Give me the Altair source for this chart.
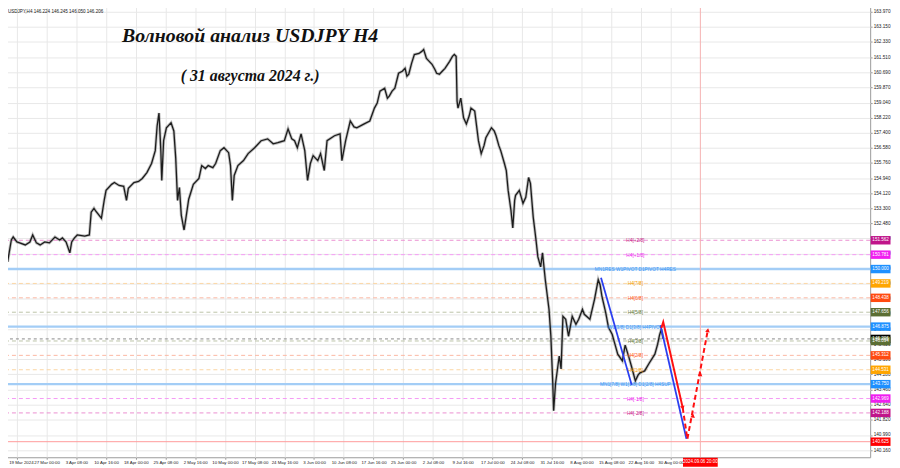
import json
import altair as alt
import pandas as pd

# ---------------- data ----------------
# (H4 bar index, price) along the USDJPY price path
price_path = [
    (0, 151.04), (3, 151.69), (6, 150.39), (10, 151.58), (12, 151.74), (16, 151.47), (19, 151.42),
    (25, 151.31), (30, 151.47), (33, 151.85), (37, 151.42), (41, 151.31), (46, 151.47), (51, 151.42),
    (57, 151.74), (62, 151.58), (65, 151.69), (69, 151.47), (73, 150.88), (75, 151.47), (78, 151.69),
    (81, 151.85), (89, 151.79), (94, 151.85), (96, 153.09), (99, 153.30), (101, 153.14), (107, 152.76),
    (110, 153.73), (112, 154.27), (118, 154.60), (121, 154.70), (126, 154.54), (131, 154.49),
    (134, 153.73), (136, 154.38), (142, 154.70), (147, 154.76), (151, 154.92), (156, 155.24),
    (161, 155.73), (165, 156.43), (167, 157.77), (169, 158.47), (171, 156.43), (172, 154.81),
    (174, 156.97), (177, 157.67), (182, 157.94), (185, 157.50), (187, 156.05), (189, 153.73),
    (191, 154.43), (193, 152.93), (196, 152.12), (198, 152.76), (201, 153.79), (206, 154.60),
    (212, 154.92), (215, 155.62), (219, 155.46), (222, 155.62), (227, 155.51), (230, 155.73),
    (235, 156.43), (239, 156.59), (244, 156.32), (246, 155.62), (248, 153.73), (250, 155.08),
    (254, 155.62), (260, 155.89), (265, 156.27), (272, 156.59), (279, 156.97), (286, 157.07),
    (292, 156.80), (297, 156.86), (304, 156.97), (308, 157.61), (312, 157.07), (315, 156.97),
    (318, 156.59), (322, 157.34), (326, 156.43), (329, 154.81), (332, 155.73), (335, 156.16),
    (340, 155.89), (343, 156.27), (347, 155.35), (350, 156.97), (358, 157.24), (364, 157.34),
    (366, 155.89), (370, 156.97), (375, 158.04), (379, 157.72), (382, 157.67), (390, 157.88),
    (396, 158.04), (401, 158.74), (404, 159.01), (407, 159.66), (412, 159.82), (415, 159.28),
    (417, 159.39), (420, 159.66), (423, 159.82), (427, 160.63), (431, 160.74), (434, 160.90),
    (436, 160.47), (438, 160.58), (441, 161.17), (444, 161.65), (449, 161.71), (452, 161.82),
    (454, 161.92), (457, 161.44), (460, 161.28), (463, 161.12), (466, 160.85), (468, 160.63),
    (471, 160.58), (474, 160.74), (477, 160.90), (482, 161.28), (485, 161.55), (487, 161.65),
    (489, 161.55), (490, 159.12), (491, 158.74), (494, 159.28), (497, 158.21), (500, 157.88),
    (503, 158.31), (505, 158.74), (509, 158.58), (513, 156.97), (516, 156.27), (519, 156.70),
    (521, 157.13), (527, 157.67), (530, 157.50), (532, 157.24), (535, 156.70), (537, 156.43),
    (541, 155.73), (543, 155.35), (545, 154.27), (548, 153.20), (550, 152.23), (552, 153.73),
    (553, 154.00), (557, 154.27), (561, 153.57), (564, 153.90), (567, 154.97), (569, 154.65),
    (572, 152.82), (575, 151.58), (577, 150.66), (580, 150.12), (582, 150.88), (585, 149.42),
    (589, 147.81), (591, 146.35), (593, 143.87), (594, 142.31), (596, 143.77), (600, 145.28),
    (602, 144.58), (604, 147.43), (607, 147.27), (610, 146.35), (614, 147.43), (618, 147.00),
    (621, 147.27), (625, 147.81), (627, 147.54), (633, 147.27), (638, 148.35), (642, 149.42),
    (644, 149.15), (646, 148.51), (650, 147.65), (653, 146.84), (657, 146.46), (660, 145.92),
    (663, 145.38), (668, 145.01), (671, 145.87), (675, 145.22), (678, 144.68), (682, 143.93),
    (685, 144.25), (687, 144.36), (692, 144.47), (697, 144.90), (703, 145.38), (706, 145.92),
    (708, 146.41), (710, 146.73), (712, 146.21),
]

date_labels = ["19 Mar 2024", "27 Mar 00:00", "3 Apr 08:00", "10 Apr 16:00", "18 Apr 00:00",
               "25 Apr 08:00", "2 May 16:00", "10 May 00:00", "17 May 08:00", "24 May 16:00",
               "3 Jun 00:00", "10 Jun 08:00", "17 Jun 16:00", "25 Jun 00:00", "2 Jul 08:00",
               "9 Jul 16:00", "17 Jul 00:00", "24 Jul 08:00", "31 Jul 16:00", "8 Aug 00:00",
               "15 Aug 08:00", "22 Aug 16:00", "30 Aug 00:00"]
date_ticks = [16 + 32 * i for i in range(len(date_labels))]

price_ticks = [163.970, 163.150, 162.330, 161.510, 160.690, 159.870, 159.040, 158.220, 157.400,
               156.580, 155.760, 154.940, 154.120, 153.300, 152.480, 151.660, 150.840, 150.020,
               149.200, 148.380, 147.560, 146.740, 145.920, 145.100, 144.280, 143.460, 142.640,
               141.820, 140.990, 140.160]

level_prices = [151.5625, 150.78125, 150.0, 149.21875, 148.4375, 147.65625, 146.875,
                146.09375, 145.3125, 144.53125, 143.75, 142.96875, 142.1875]
level_names = ["H4[+2/8]", "H4[+1/8]", "MN1RES W1PIVOT D1PIVOT H4RES", "H4[7/8]", "H4[6/8]",
               "H4[5/8]", "W1[3/8] D1[3/8] H4PIVOT", "H4[3/8]", "H4[2/8]", "H4[1/8]",
               "MN1[7/8] W1[1/8] D1[2/8] H4SUP", "H4[-1/8]", "H4[-2/8]"]
level_kind = ["dm", "m", "b", "o", "r", "g", "b", "g", "r", "o", "b", "m", "dm"]

bid_price = 146.206
low_target = 140.625
cursor_bar = 752
cursor_label = "2024.09.06 20:00"
label_bar = 682

blue_wave = [(645, 149.53, "a"), (678, 143.71, "a"), (709, 146.95, "b"), (737, 140.78, "b")]
red_solid = [(710, 146.80), (712, 147.12), (733, 142.46)]
red_dashed = [(733, 142.46), (738, 140.77), (760, 146.68)]
red_arrows = [(733, 142.46, "triangle-down", 346), (744, 142.04, "triangle-up", 10),
              (752, 144.30, "triangle-up", 10), (760, 146.68, "triangle-up", 10)]

# ---------------- styling ----------------
line_col = {"dm": "#eb8fd0", "m": "#f59af5", "b": "#a3cdf6", "o": "#fbd6a3", "r": "#fbb7a3", "g": "#bcc3a8"}
text_col = {"dm": "#c71585", "m": "#ee1aee", "b": "#3b95f5", "o": "#f5a000", "r": "#ff5a20", "g": "#667a3a"}
box_col = {"dm": "#c0158a", "m": "#f01ef0", "b": "#1e90ff", "o": "#ffa500", "r": "#ff4a10", "g": "#5b6e33"}

FONT = "Liberation Sans"
X_MAX = 875 * 1.0684
Y_MIN, Y_MAX = 139.779, 164.401

xscale = alt.Scale(domain=[0, X_MAX], nice=False, zero=False)
yscale = alt.Scale(domain=[Y_MIN, Y_MAX], nice=False, zero=False)
label_expr = json.dumps(date_labels) + "[round((datum.value - 16) / 32)]"
xaxis = alt.Axis(values=date_ticks, labelExpr=label_expr, grid=True, gridColor="#e8e8e8",
                 domain=False, ticks=True, tickSize=2, tickColor="#999", labelFont=FONT,
                 labelFontSize=4.4, labelColor="#222", labelPadding=1.5, labelOverlap=False,
                 labelFlush=False, title=None,
                 labelOffset=alt.condition("datum.value == 16", alt.value(4), alt.value(0)))
yaxis = alt.Axis(orient="right", values=price_ticks, format=".3f", grid=True, gridColor="#e8e8e8",
                 domain=False, ticks=True, tickSize=2, tickColor="#999", labelFont=FONT,
                 labelFontSize=4.7, labelColor="#222", labelPadding=1, labelOverlap=False,
                 labelFlush=False, title=None)

X = alt.X("bar:Q", scale=xscale, axis=xaxis)
Y = alt.Y("price:Q", scale=yscale, axis=yaxis)

path_df = pd.DataFrame(price_path, columns=["bar", "price"])
lv = pd.DataFrame({"price": level_prices, "name": level_names, "kind": level_kind})
lv["lc"] = lv["kind"].map(line_col)
lv["tc"] = lv["kind"].map(text_col)
lv["bc"] = lv["kind"].map(box_col)
lv["box"] = [f"{p:.3f}" for p in level_prices]
lv["bar"] = label_bar
lv["solid"] = lv["kind"] == "b"

base_lv = alt.Chart(lv)
dashed_lines = base_lv.transform_filter("!datum.solid").mark_rule(strokeWidth=1, strokeDash=[4, 3]).encode(
    y=Y, color=alt.Color("lc:N", scale=None))
solid_lines = base_lv.transform_filter("datum.solid").mark_rule(strokeWidth=2.4).encode(
    y=Y, color=alt.Color("lc:N", scale=None))
level_text = base_lv.mark_text(font=FONT, fontSize=4.8, baseline="middle", dy=1).encode(
    x=X, y=Y, text="name:N", color=alt.Color("tc:N", scale=None))

extra = pd.DataFrame({"price": [bid_price, low_target], "bar": [cursor_bar, cursor_bar],
                      "box": [f"{bid_price:.3f}", f"{low_target:.3f}"],
                      "bc": ["#000000", "#ff0000"], "lc": ["#9a9a9a", "#ff9a9a"]})
bid_line = alt.Chart(extra.iloc[[0]]).mark_rule(strokeWidth=1, strokeDash=[3, 3], color="#8a8a8a").encode(y=Y)
low_line = alt.Chart(extra.iloc[[1]]).mark_rule(strokeWidth=1, color="#ff9a9a").encode(y=Y)
cursor_line = alt.Chart(extra.iloc[[0]]).mark_rule(strokeWidth=1, color="#f5b0b0").encode(x=X)

halo = alt.Chart(path_df).mark_line(color="#666666", strokeWidth=3, opacity=0.4).encode(x=X, y=Y)
price_line = alt.Chart(path_df).mark_line(color="#1c1c1c", strokeWidth=1.3).encode(x=X, y=Y)

blue_df = pd.DataFrame(blue_wave, columns=["bar", "price", "seg"])
blue = alt.Chart(blue_df).mark_line(color="#2b3ff0", strokeWidth=1.8).encode(x=X, y=Y, detail="seg:N")
red1 = alt.Chart(pd.DataFrame(red_solid, columns=["bar", "price"])).mark_line(
    color="#ff1010", strokeWidth=2).encode(x=X, y=Y)
red2 = alt.Chart(pd.DataFrame(red_dashed, columns=["bar", "price"])).mark_line(
    color="#ff1010", strokeWidth=2, strokeDash=[5, 3]).encode(x=X, y=Y)
arr_df = pd.DataFrame(red_arrows, columns=["bar", "price", "shape", "angle"])
arrows = alt.Chart(arr_df).mark_point(filled=True, size=22, color="#ff1010", opacity=1).encode(
    x=X, y=Y, shape=alt.Shape("shape:N", scale=None), angle=alt.Angle("angle:Q", scale=None))

# axis-side value boxes
boxes_df = pd.concat([extra.iloc[[0]][["price", "box", "bc"]], lv[["price", "box", "bc"]],
                      extra.iloc[[1]][["price", "box", "bc"]]], ignore_index=True)
box_rect = alt.Chart(boxes_df).mark_rect(width=20, height=8.5).encode(
    x=alt.value(885.5), y=Y, color=alt.Color("bc:N", scale=None))
box_text = alt.Chart(boxes_df).mark_text(font=FONT, fontSize=4.6, color="white", baseline="middle").encode(
    x=alt.value(885.5), y=Y, text="box:N")

date_box_df = pd.DataFrame({"bar": [cursor_bar], "t": [cursor_label]})
date_rect = alt.Chart(date_box_df).mark_rect(width=35, height=9, color="#ff0000").encode(x=X, y=alt.value(462))
date_text = alt.Chart(date_box_df).mark_text(font=FONT, fontSize=4.5, color="white", baseline="middle").encode(
    x=X, y=alt.value(462), text="t:N")

titles = pd.DataFrame({"t": ["Волновой анализ USDJPY H4", "( 31 августа 2024 г.)"]})
title1 = alt.Chart(titles.iloc[[0]]).mark_text(font="Liberation Serif", fontStyle="italic", fontWeight="bold",
                                               fontSize=20, color="#111").encode(
    x=alt.value(250), y=alt.value(32), text="t:N")
title2 = alt.Chart(titles.iloc[[1]]).mark_text(font="Liberation Serif", fontStyle="italic", fontWeight="bold",
                                               fontSize=16, color="#111").encode(
    x=alt.value(250), y=alt.value(73), text="t:N")
hdr = alt.Chart(pd.DataFrame({"t": ["USDJPY,H4  146.224 146.245 146.050 146.206"]})).mark_text(
    font=FONT, fontSize=4.6, color="#222", align="left", baseline="middle").encode(
    x=alt.value(6), y=alt.value(8.5), text="t:N")

chart = alt.layer(
    dashed_lines, solid_lines, bid_line, low_line, cursor_line,
    halo, price_line, level_text, blue, red1, red2, arrows,
    title1, title2, hdr, box_rect, box_text, date_rect, date_text,
).properties(
    width=875, height=457, autosize="none",
    padding={"left": -6, "top": -6, "right": 22, "bottom": 10},
    background="white",
).configure_view(stroke="#9a9a9a", strokeWidth=1)

chart.save("out.html", embed_options={"renderer": "svg", "actions": False})
